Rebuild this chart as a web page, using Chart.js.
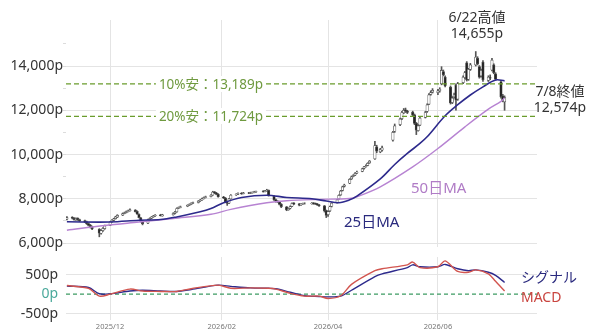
<!DOCTYPE html>
<html>
<head>
<meta charset="utf-8">
<script src="https://cdn.jsdelivr.net/npm/chart.js@4"></script>
<style>
  body { margin: 0; background: #fff; }
  #wrap { position: relative; width: 600px; height: 336px; font-family: "Noto Sans", "Noto Sans CJK JP", sans-serif; }
  canvas { position: absolute; left: 0; }
  .note { position: absolute; white-space: nowrap; line-height: 16px; font-size: 14px; color: #333; text-align: center; }
  .lvl { position: absolute; white-space: nowrap; font-size: 13.5px; color: #6f9a3f; background: #fff; padding: 0 3px; transform: translate(-50%, -50%); line-height: 16px; }
</style>
</head>
<body>
<div id="wrap">
  <canvas id="main" width="600" height="255" style="top:0"></canvas>
  <canvas id="macd" width="600" height="81" style="top:255px"></canvas>
  <div class="note" style="left:447px;top:9px;width:60px">6/22高値<br>14,655p</div>
  <div class="note" style="left:530px;top:83px;width:60px">7/8終値<br>12,574p</div>
  <div class="note" style="left:411px;top:179px;font-size:15px;color:#b07cc6">50日MA</div>
  <div class="note" style="left:344px;top:213px;font-size:15px;color:#2a2a7e">25日MA</div>
  <div class="note" style="left:521px;top:269px;color:#2a2a7e">シグナル</div>
  <div class="note" style="left:521px;top:289px;color:#c9443f">MACD</div>
</div>
<script>
// ----------------------------
// DATA
// ----------------------------
const holidays = ['2025-11-24', '2025-12-31', '2026-01-01', '2026-01-02', '2026-01-12', '2026-02-11',
  '2026-02-23', '2026-03-20', '2026-04-29', '2026-05-04', '2026-05-05', '2026-05-06'];

// daily candles, Nov 7 2025 .. Jul 8 2026 (one row per month)
const opens = [
  7080, 7160, 7130, 7050, 7120, 7060, 7010, 6960, 6880, 6810, 6730, 6620, 6440, 6560, 6650,
  6800, 6960, 7020, 7100, 7170, 7260, 7340, 7380, 7430, 7460, 7490, 7430, 7300, 7140, 6990, 6900, 7060, 7120, 7180, 7230, 7270, 7230,
  7280, 7340, 7410, 7570, 7610, 7660, 7710, 7750, 7800, 7830, 7900, 7950, 8010, 8060, 8100, 8170, 8310, 8260, 8210,
  8080, 8030, 7860, 7800, 8000, 8170, 8210, 8250, 8240, 8270, 8250, 8270, 8290, 8310, 8340, 8330, 8360, 8380,
  8120, 7960, 7890, 7870, 7760, 7630, 7510, 7570, 7660, 7800, 7770, 7720, 7760, 7790, 7780, 7810, 7790, 7770, 7730, 7680, 7470,
  7280, 7450, 7660, 7830, 7990, 8180, 8380, 8560, 8700, 8900, 9010, 9070, 9170, 9240, 9370, 9460, 9510, 9620, 9800, 10350, 10120,
  10200, 10650, 11050, 11350, 11620, 11880, 12020, 11960, 11920, 11790, 11420, 11080, 11330, 11680, 11950, 12280, 12720, 12820,
  12800, 12880, 13200, 13750, 13500, 13050, 12350, 12600, 13140, 12500, 13250, 13480, 14140, 13400, 13850, 14050, 14350, 13970, 13550, 14180, 13350, 13480,
  13820, 14050, 13650, 13290, 12650, 12380
];
const highs = [
  7200, 7190, 7150, 7140, 7140, 7080, 7040, 6990, 6910, 6840, 6760, 6650, 6600, 6700, 6810,
  6980, 7060, 7120, 7210, 7280, 7360, 7400, 7450, 7490, 7540, 7510, 7450, 7320, 7160, 7010, 7080, 7140, 7200, 7250, 7290, 7300, 7300,
  7360, 7430, 7590, 7630, 7670, 7730, 7770, 7820, 7850, 7920, 7970, 8030, 8080, 8120, 8190, 8340, 8330, 8290, 8230,
  8110, 8060, 7890, 8020, 8190, 8230, 8270, 8280, 8290, 8290, 8300, 8310, 8340, 8350, 8370, 8380, 8430, 8400,
  8140, 7990, 7920, 7890, 7780, 7650, 7590, 7680, 7820, 7830, 7790, 7780, 7810, 7820, 7830, 7830, 7810, 7790, 7750, 7700, 7490,
  7450, 7670, 7830, 7980, 8180, 8380, 8570, 8660, 8910, 9030, 9090, 9180, 9250, 9380, 9470, 9530, 9630, 9730, 10600, 10420, 10280,
  10380, 11050, 11380, 11650, 11950, 12080, 12100, 12000, 11960, 11830, 11450, 11350, 11700, 11950, 12290, 12750, 12880, 12980,
  12950, 13020, 13970, 13820, 13560, 13100, 12620, 12780, 13200, 13260, 13560, 13760, 14200, 13900, 14120, 14655, 14420, 14020, 13860, 14250, 13560, 13600,
  14350, 14100, 13700, 13350, 12720, 12650
];
const lows = [
  7040, 7090, 7030, 7020, 7020, 6970, 6920, 6840, 6770, 6680, 6600, 6280, 6400, 6520, 6620,
  6780, 6930, 7000, 7080, 7150, 7240, 7320, 7360, 7410, 7440, 7400, 7290, 7130, 6950, 6820, 6880, 7030, 7100, 7160, 7200, 7220, 7210,
  7260, 7320, 7390, 7550, 7590, 7640, 7690, 7730, 7780, 7810, 7880, 7930, 7990, 8040, 8080, 8150, 8230, 8180, 8070,
  8010, 7820, 7700, 7780, 7980, 8150, 8190, 8200, 8220, 8230, 8230, 8250, 8270, 8290, 8300, 8310, 8340, 8120,
  7920, 7850, 7830, 7720, 7600, 7460, 7480, 7540, 7640, 7730, 7680, 7700, 7740, 7760, 7760, 7750, 7740, 7700, 7650, 7400, 7150,
  7200, 7420, 7630, 7800, 7970, 8150, 8350, 8530, 8680, 8870, 8990, 9040, 9140, 9220, 9340, 9430, 9490, 9600, 9780, 10080, 10080,
  10150, 10600, 11000, 11300, 11580, 11850, 11900, 11850, 11730, 11350, 10900, 11050, 11300, 11650, 11900, 12250, 12680, 12780,
  12700, 12820, 13150, 13550, 13050, 12280, 12300, 12550, 12000, 12450, 13200, 13430, 13320, 13350, 13800, 14000, 14050, 13450, 13500, 13300, 13300, 13380,
  13780, 13650, 13350, 12550, 12380, 12000
];
const closes = [
  7150, 7120, 7060, 7110, 7050, 7000, 6950, 6870, 6800, 6720, 6640, 6450, 6560, 6660, 6780,
  6950, 7030, 7090, 7180, 7250, 7330, 7370, 7420, 7460, 7500, 7420, 7310, 7150, 6980, 6880, 7050, 7110, 7170, 7220, 7260, 7240, 7270,
  7330, 7400, 7560, 7600, 7640, 7700, 7740, 7790, 7820, 7890, 7940, 8000, 8050, 8090, 8160, 8300, 8250, 8200, 8090,
  8040, 7850, 7790, 7990, 8160, 8200, 8240, 8230, 8260, 8250, 8270, 8280, 8310, 8320, 8330, 8350, 8390, 8150,
  7950, 7880, 7860, 7750, 7640, 7500, 7560, 7650, 7790, 7760, 7710, 7750, 7780, 7790, 7800, 7780, 7760, 7720, 7680, 7450, 7250,
  7420, 7640, 7800, 7950, 8150, 8350, 8540, 8620, 8880, 8990, 9050, 9150, 9200, 9350, 9440, 9480, 9600, 9700, 10400, 10150, 10230,
  10300, 11000, 11300, 11600, 11900, 12000, 11950, 11900, 11780, 11400, 11100, 11300, 11650, 11900, 12240, 12700, 12800, 12900,
  12880, 12950, 13800, 13600, 13100, 12330, 12550, 12700, 12460, 13200, 13500, 13700, 13370, 13850, 14050, 14400, 14100, 13500, 13800, 13370, 13500, 13450,
  14270, 13700, 13400, 12600, 12450, 12574
];

const maDates25 = ['2025-11-07', '2025-12-01', '2025-12-17', '2025-12-29', '2026-01-07', '2026-01-20', '2026-01-26',
  '2026-02-02', '2026-02-12', '2026-02-26', '2026-03-09', '2026-03-23', '2026-03-31', '2026-04-07', '2026-04-13',
  '2026-04-17', '2026-04-30', '2026-05-08', '2026-05-15', '2026-05-22', '2026-05-26', '2026-06-05', '2026-06-12',
  '2026-06-19', '2026-06-26', '2026-07-03', '2026-07-08'];
const ma25 = [6960, 6950, 7030, 7060, 7180, 7410, 7560, 7820, 8060, 8160, 8060, 8000, 7900, 7820, 7950,
  8120, 8900, 9550, 10050, 10500, 10800, 11750, 12250, 12690, 13060, 13370, 13330];

const maDates50 = ['2025-11-07', '2025-11-28', '2025-12-17', '2026-01-05', '2026-01-26', '2026-02-06', '2026-02-26',
  '2026-03-09', '2026-03-26', '2026-04-13', '2026-04-17', '2026-04-30', '2026-05-18', '2026-06-01', '2026-06-16',
  '2026-06-29', '2026-07-06', '2026-07-08'];
const ma50 = [6580, 6790, 6950, 7110, 7300, 7520, 7820, 7910, 7970, 8010, 8090, 8540, 9440, 10270, 11250,
  12050, 12400, 12560];

const macdDates = ['2025-11-07', '2025-11-19', '2025-11-25', '2025-12-01', '2025-12-12', '2025-12-19', '2025-12-29',
  '2026-01-07', '2026-01-15', '2026-01-30', '2026-02-06', '2026-02-17', '2026-02-27', '2026-03-03', '2026-03-11',
  '2026-03-19', '2026-03-27', '2026-04-01', '2026-04-08', '2026-04-14', '2026-04-27', '2026-05-01', '2026-05-15',
  '2026-05-18', '2026-05-22', '2026-06-01', '2026-06-05', '2026-06-12', '2026-06-18', '2026-06-22', '2026-06-29',
  '2026-07-03', '2026-07-08'];
const macdLine = [220, 150, -50, 0, 130, 80, 70, 70, 140, 230, 150, 160, 150, 130, 20, -50, -50, -110, -40, 250,
  600, 650, 750, 820, 680, 700, 850, 580, 560, 620, 520, 330, 80];
const signalLine = [210, 170, 10, 10, 80, 100, 80, 70, 120, 230, 200, 160, 150, 140, 50, -40, -60, -70, -50, 100,
  450, 520, 680, 750, 700, 700, 760, 650, 600, 620, 560, 480, 300];

const levels = [13189, 11724];
const levelLabels = ['10%安：13,189p', '20%安：11,724p'];
const yTicks = [6000, 7000, 8000, 9000, 10000, 11000, 12000, 13000, 14000, 15000];
const macdTicks = [-500, 0, 500];
const xTickDates = ['2025-12-01', '2026-02-01', '2026-04-01', '2026-06-01'];
const xTickLabels = ['2025/12', '2026/02', '2026/04', '2026/06'];

// ----------------------------
// HELPERS
// ----------------------------
const day = s => (Date.parse(s) - Date.parse('2025-12-01')) / 864e5;
const X_MIN = -24.5;
const X_MAX = 237;

const tradeDays = [];
for (let t = Date.parse('2025-11-07'); t <= Date.parse('2026-07-08'); t += 864e5) {
  const s = new Date(t).toISOString().slice(0, 10);
  const wd = new Date(t).getUTCDay();
  if (wd !== 0 && wd !== 6 && !holidays.includes(s)) tradeDays.push(s);
}

const pts = (dates, vals) => dates.map((d, i) => ({ x: day(d), y: vals[i] }));
const xTickVals = xTickDates.map(day);

// no edge padding from tick labels, keeps plot areas where the layout puts them
const noPad = s => { s.paddingTop = 0; s.paddingBottom = 0; s.paddingLeft = 0; s.paddingRight = 0; };

Chart.defaults.font.family = '"Noto Sans", "Noto Sans CJK JP", sans-serif';
Chart.defaults.animation = false;

const commonX = (showLabels) => ({
  type: 'linear',
  min: X_MIN,
  max: X_MAX,
  offset: false,
  afterBuildTicks: a => { a.ticks = xTickVals.map(v => ({ value: v })); },
  afterFit: s => { s.height = showLabels ? 16 : 0; noPad(s); },
  border: { display: false },
  grid: { color: '#e4e4e4', drawTicks: false, offset: false },
  ticks: {
    display: showLabels,
    padding: 2,
    color: '#777',
    font: { size: 7.5 },
    maxRotation: 0,
    callback: (v, i) => xTickLabels[i]
  }
});

// ----------------------------
// MAIN PRICE CHART
// ----------------------------
const mainChart = new Chart(document.getElementById('main'), {
  data: {
    datasets: [
      {
        type: 'line', data: pts(maDates25, ma25), borderColor: '#2d2a8c', borderWidth: 1.6,
        pointRadius: 0, tension: 0.35, order: 2
      },
      {
        type: 'line', data: pts(maDates50, ma50), borderColor: '#b783d2', borderWidth: 1.4,
        pointRadius: 0, tension: 0.35, order: 3
      },
      ...levels.map(v => ({
        type: 'line', data: [{ x: X_MIN, y: v }, { x: X_MAX, y: v }], borderColor: '#6a9c2c',
        borderWidth: 1.3, borderDash: [5, 3], pointRadius: 0, order: 1
      })),
      {
        type: 'bar', grouped: false, barThickness: 1, order: 5,
        data: tradeDays.map((d, i) => ({ x: day(d), y: [lows[i], highs[i]] })),
        backgroundColor: '#555'
      },
      {
        type: 'bar', grouped: false, barThickness: 2.5, order: 4, borderSkipped: false,
        data: tradeDays.map((d, i) => ({ x: day(d), y: [opens[i], closes[i]] })),
        backgroundColor: tradeDays.map((d, i) => closes[i] >= opens[i] ? '#fff' : '#222'),
        borderColor: '#555',
        borderWidth: 0.7
      }
    ]
  },
  options: {
    responsive: false,
    layout: { padding: { left: 0, right: 63, top: 20, bottom: 8 } },
    plugins: { legend: { display: false }, tooltip: { enabled: false } },
    scales: {
      x: commonX(false),
      y: {
        min: 5820,
        max: 16080,
        afterBuildTicks: a => { a.ticks = yTicks.map(v => ({ value: v })); },
        afterFit: s => { s.width = 66; noPad(s); },
        border: { display: false },
        grid: {
          color: c => c.tick && c.tick.value % 2000 === 0 ? '#e4e4e4' : 'rgba(0,0,0,0)',
          tickColor: '#dcdcdc',
          tickLength: 3
        },
        ticks: {
          padding: 0,
          color: '#333',
          font: { size: 14 },
          callback: v => v % 2000 === 0 && v < 15000 ? v.toLocaleString('en-US') + 'p' : ''
        }
      }
    }
  }
});

// level labels over the dashed lines
const wrap = document.getElementById('wrap');
levels.forEach((v, i) => {
  const el = document.createElement('div');
  el.className = 'lvl';
  el.textContent = levelLabels[i];
  el.style.left = '211px';
  el.style.top = mainChart.scales.y.getPixelForValue(v) + 'px';
  wrap.appendChild(el);
});

// ----------------------------
// MACD CHART
// ----------------------------
new Chart(document.getElementById('macd'), {
  type: 'line',
  data: {
    datasets: [
      {
        data: [{ x: X_MIN, y: 0 }, { x: X_MAX, y: 0 }], borderColor: '#3c9b63', borderWidth: 1.2,
        borderDash: [4, 3], pointRadius: 0, order: 3
      },
      { data: pts(macdDates, signalLine), borderColor: '#2d2a8c', borderWidth: 1.4, pointRadius: 0, tension: 0.3, order: 2 },
      { data: pts(macdDates, macdLine), borderColor: '#d2554f', borderWidth: 1.4, pointRadius: 0, tension: 0.3, order: 1 }
    ]
  },
  options: {
    responsive: false,
    layout: { padding: { left: 0, right: 63, top: 2, bottom: 0 } },
    plugins: { legend: { display: false }, tooltip: { enabled: false } },
    scales: {
      x: commonX(true),
      y: {
        min: -660,
        max: 950,
        afterBuildTicks: a => { a.ticks = macdTicks.map(v => ({ value: v })); },
        afterFit: s => { s.width = 66; noPad(s); },
        border: { display: false },
        grid: {
          color: c => c.tick && c.tick.value === 0 ? 'rgba(0,0,0,0)' : '#e4e4e4',
          drawTicks: false
        },
        ticks: {
          padding: 8,
          color: c => c.tick && c.tick.value === 0 ? '#4aa99b' : '#333',
          font: { size: 14 },
          callback: v => v + 'p'
        }
      }
    }
  }
});
</script>
</body>
</html>
